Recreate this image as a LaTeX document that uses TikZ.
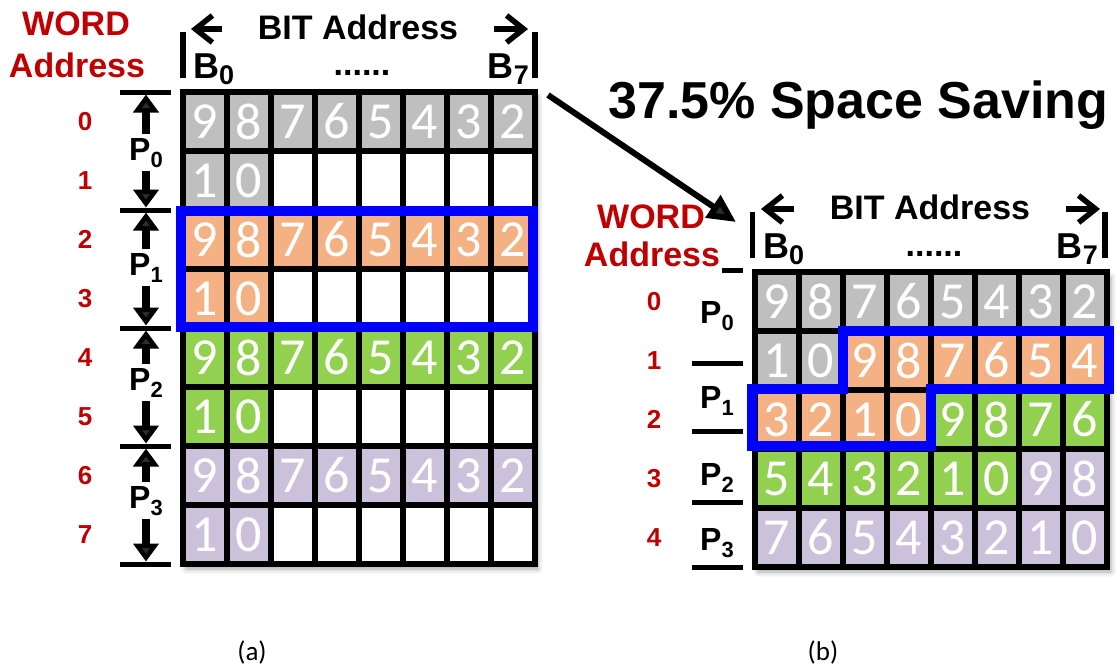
\documentclass[tikz,border=0pt]{standalone}
\usepackage{fontspec}
\setmainfont{Liberation Sans}
\newfontfamily\cellfont{Carlito}
\usetikzlibrary{arrows.meta,shadows.blur}

\definecolor{wordred}{HTML}{C00000}
\definecolor{cgray}{HTML}{BFBFBF}
\definecolor{corange}{HTML}{F4B183}
\definecolor{cgreen}{HTML}{92D050}
\definecolor{cpurple}{HTML}{CCC1DA}
\definecolor{hlblue}{HTML}{0000FF}

% lowered subscript digits for B_0, B_7 and P_i
\newcommand\bsub[1]{\raisebox{-6pt}{\fontsize{27}{27}\selectfont #1}}
\newcommand\psub[1]{\raisebox{-7pt}{\fontsize{22}{22}\selectfont #1}}

% one row of eight memory cells: name prefix, left x, centre y, colour/digit list
\newcommand\cellrow[4]{%
  \foreach \col/\d [count=\i from 0] in {#4}
    \node[cell, fill=\col] (#1-\i) at ({#2+22+44*\i},#3) {\d};}

\begin{document}
\begin{tikzpicture}[x=1pt,y=-1pt,
  cell/.style={draw=black, line width=5.5pt, minimum width=44pt, minimum height=59pt,
    inner sep=0pt, text=white, font=\cellfont\fontsize{52}{52}\selectfont},
  frame/.style={fill=white, blur shadow={shadow xshift=3pt, shadow yshift=-5pt,
    shadow blur radius=5pt, shadow opacity=35}},
  lbl/.style={inner sep=0pt, font=\bfseries\fontsize{34}{34}\selectfont},
  blbl/.style={inner sep=0pt, font=\bfseries\fontsize{36}{36}\selectfont},
  wordlbl/.style={lbl, text=wordred},
  rowlbl/.style={text=wordred, font=\bfseries\fontsize{26}{26}\selectfont},
  plbl/.style={inner sep=4pt, font=\bfseries\fontsize{32}{32}\selectfont},
  tick/.style={line width=5pt},
  bar/.style={line width=5.5pt},
  span/.style={line width=8pt, shorten >=2.5pt, -{Triangle[length=18pt,width=25pt]}},
  bitarrow/.style={line width=5.5pt, -{Straight Barb[length=17pt,width=27pt]}},
  bigarrow/.style={line width=6pt, -{Triangle[length=28pt,width=26pt]}},
  highlight/.style={draw=hlblue, line width=10pt, line join=miter},
  caption/.style={font=\cellfont\fontsize{27}{27}\selectfont}]
\useasboundingbox (0,0) rectangle (1119,670);

% ---------------- (a) one packet per two words ----------------
\path[frame] (183,92) rectangle (535,564);
\cellrow{a0}{183}{121.5}{cgray/9,cgray/8,cgray/7,cgray/6,cgray/5,cgray/4,cgray/3,cgray/2}
\cellrow{a1}{183}{180.5}{cgray/1,cgray/0,white/{},white/{},white/{},white/{},white/{},white/{}}
\cellrow{a2}{183}{239.5}{corange/9,corange/8,corange/7,corange/6,corange/5,corange/4,corange/3,corange/2}
\cellrow{a3}{183}{298.5}{corange/1,corange/0,white/{},white/{},white/{},white/{},white/{},white/{}}
\cellrow{a4}{183}{357.5}{cgreen/9,cgreen/8,cgreen/7,cgreen/6,cgreen/5,cgreen/4,cgreen/3,cgreen/2}
\cellrow{a5}{183}{416.5}{cgreen/1,cgreen/0,white/{},white/{},white/{},white/{},white/{},white/{}}
\cellrow{a6}{183}{475.5}{cpurple/9,cpurple/8,cpurple/7,cpurple/6,cpurple/5,cpurple/4,cpurple/3,cpurple/2}
\cellrow{a7}{183}{534.5}{cpurple/1,cpurple/0,white/{},white/{},white/{},white/{},white/{},white/{}}

\draw[highlight] (181,211) rectangle (533,327);

% word address column
\node[wordlbl, anchor=base] (aword) at (76,35) {WORD};
\node[wordlbl, anchor=base] (aaddr) at (77,77) {Address};
\foreach \r in {0,...,7}
  \node[rowlbl] (arow\r) at (85,{121.5+59*\r}) {\r};

% packet spans
\foreach \k/\y in {0/92,1/210,2/328,3/446,4/564} {
  \coordinate (at\k) at (146,\y);
  \draw[tick] (120,\y) -- (171,\y);
}
\foreach \k/\b [evaluate=\k as \n using int(\k+1)] in {0/160,1/275,2/390,3/508} {
  \node[plbl, anchor=base] (ap\k) at (146,\b) {P\psub{\k}};
  \draw[span] (ap\k.north) -- (at\k);
  \draw[span] (ap\k.south) -- (at\n);
}

% bit address header
\draw[bar] (183,32) -- (183,78);
\draw[bar] (535,32) -- (535,78);
\coordinate (abitL) at (191,29);
\coordinate (abitR) at (528,29);
\node[lbl, inner xsep=36pt] (abit) at (358,27) {BIT Address};
\draw[bitarrow] (abit.west |- abitL) -- (abitL);
\draw[bitarrow] (abit.east |- abitR) -- (abitR);
\node[blbl, anchor=base west] (ab0) at (193,78) {B\bsub{0}};
\node[lbl, anchor=base] (adots) at (362,75) {......};
\node[blbl, anchor=base east] (ab7) at (529,78) {B\bsub{7}};

\node[caption] (capa) at (252,652) {(a)};

% ---------------- (b) packets packed back to back ----------------
\path[frame] (755,272) rectangle (1108,567);
\cellrow{b0}{755}{301.5}{cgray/9,cgray/8,cgray/7,cgray/6,cgray/5,cgray/4,cgray/3,cgray/2}
\cellrow{b1}{755}{360.5}{cgray/1,cgray/0,corange/9,corange/8,corange/7,corange/6,corange/5,corange/4}
\cellrow{b2}{755}{419.5}{corange/3,corange/2,corange/1,corange/0,cgreen/9,cgreen/8,cgreen/7,cgreen/6}
\cellrow{b3}{755}{478.5}{cgreen/5,cgreen/4,cgreen/3,cgreen/2,cgreen/1,cgreen/0,cpurple/9,cpurple/8}
\cellrow{b4}{755}{537.5}{cpurple/7,cpurple/6,cpurple/5,cpurple/4,cpurple/3,cpurple/2,cpurple/1,cpurple/0}

\draw[highlight] (843,331) -- (1109,331) -- (1109,389) -- (931,389) -- (931,446)
  -- (752,446) -- (752,389) -- (843,389) -- cycle;

% packet boundaries
\foreach \y in {270,363,431,502,567}
  \draw[tick] (692,\y) -- (743,\y);
\node[plbl, anchor=base west, inner sep=0pt] (bp0) at (700,323) {P\psub{0}};
\node[plbl, anchor=base west, inner sep=0pt] (bp1) at (700,408) {P\psub{1}};
\node[plbl, anchor=base west, inner sep=0pt] (bp2) at (700,485) {P\psub{2}};
\node[plbl, anchor=base west, inner sep=0pt] (bp3) at (700,550) {P\psub{3}};

% word address column (the white box hides the left part of the top boundary)
\node[wordlbl, anchor=base] (bword) at (651,228) {WORD};
\node[wordlbl, anchor=base, fill=white, inner xsep=1.5pt, inner ysep=8pt] (baddr)
  at (652,266) {Address};
\foreach \r in {0,...,4}
  \node[rowlbl] (brow\r) at (654,{301.5+59*\r}) {\r};

% bit address header
\draw[bar] (752.5,212) -- (752.5,258);
\draw[bar] (1105,212) -- (1105,258);
\coordinate (bbitL) at (761,209);
\coordinate (bbitR) at (1100,209);
\node[lbl, inner xsep=36pt] (bbit) at (930,207) {BIT Address};
\draw[bitarrow] (bbit.west |- bbitL) -- (bbitL);
\draw[bitarrow] (bbit.east |- bbitR) -- (bbitR);
\node[blbl, anchor=base west] (bb0) at (763,258) {B\bsub{0}};
\node[lbl, anchor=base] (bdots) at (934,256) {......};
\node[blbl, anchor=base east] (bb7) at (1098,258) {B\bsub{7}};

\node[caption] (capb) at (823,652) {(b)};

% ---------------- saving annotation ----------------
\node[anchor=base west, inner sep=0pt, font=\bfseries\fontsize{52}{52}\selectfont] (saving)
  at (608,118) {37.5\% Space Saving};
\coordinate (savetail) at (548,95);
\coordinate (savetip) at (736,222);
\draw[bigarrow] (savetail) -- (savetip);
\end{tikzpicture}
\end{document}
